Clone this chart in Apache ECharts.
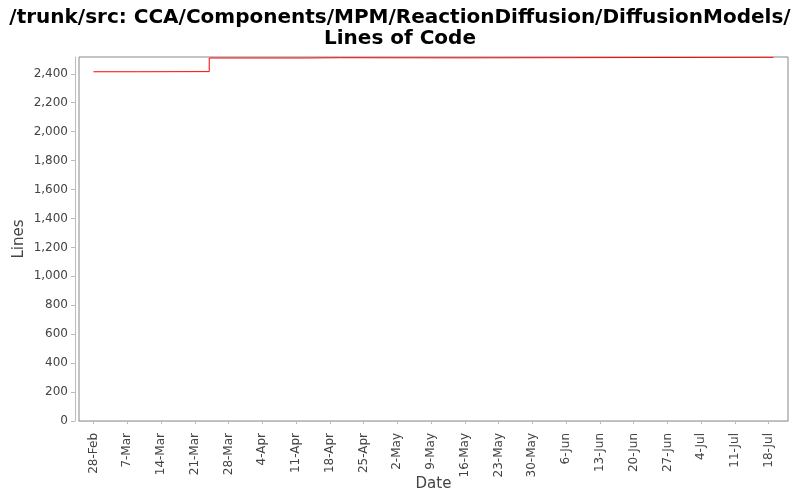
<!DOCTYPE html>
<html>
<head>
<meta charset="utf-8">
<script src="https://cdn.jsdelivr.net/npm/echarts@6/dist/echarts.min.js"></script>
<style>
html,body{margin:0;padding:0;background:#fff;}
#chart{width:800px;height:500px;}
</style>
</head>
<body>
<div id="chart"></div>
<script>
// Axis: one category per day, 25-Feb .. 22-Jul (non-leap year)
const axisDays = 148;
const monthNames = ['Jan','Feb','Mar','Apr','May','Jun','Jul','Aug','Sep','Oct','Nov','Dec'];
const categories = [];
for (let i = 0; i < axisDays; i++) {
  const d = new Date(Date.UTC(2011, 1, 25 + i));
  categories.push(d.getUTCDate() + '-' + monthNames[d.getUTCMonth()]);
}
const firstLabel = '28-Feb';
// Step points (dates where line count changes) and values
const changeDates = ['28-Feb', '9-Mar', '24-Mar', '13-Apr', '20-Apr', '15-May', '19-Jul'];
const lineCounts  = [2414, 2415, 2509, 2511, 2510, 2514, 2514];
const yTicks = [0,200,400,600,800,1000,1200,1400,1600,1800,2000,2200,2400];

const firstIdx = categories.indexOf(firstLabel);
const weekly = (idx) => idx >= firstIdx && (idx - firstIdx) % 7 === 0;

const chart = echarts.init(document.getElementById('chart'));
chart.setOption({
  backgroundColor: '#fff',
  animation: false,
  textStyle: { fontFamily: 'DejaVu Sans' },
  title: {
    text: '/trunk/src: CCA/Components/MPM/ReactionDiffusion/DiffusionModels/\nLines of Code',
    left: 'center',
    top: 2,
    textStyle: { fontFamily: 'DejaVu Sans', fontWeight: 'bold', fontSize: 20, color: '#000', lineHeight: 21 }
  },
  grid: {
    left: 79, right: 12, top: 57, bottom: 79,
    show: true, borderColor: '#888', borderWidth: 1, backgroundColor: '#fff'
  },
  xAxis: {
    type: 'category',
    data: categories,
    boundaryGap: false,
    offset: 3,
    name: 'Date',
    nameLocation: 'middle',
    nameGap: 53,
    nameMoveOverlap: false,
    nameTextStyle: { fontFamily: 'DejaVu Sans', fontSize: 15, color: '#444' },
    axisLine: { show: true, lineStyle: { color: '#bbb' } },
    axisTick: { show: true, length: 3, interval: (idx) => weekly(idx), lineStyle: { color: '#bbb' } },
    axisLabel: {
      interval: (idx) => weekly(idx),
      rotate: 90,
      fontFamily: 'DejaVu Sans', fontSize: 12, color: '#444', margin: 9
    },
    splitLine: { show: false }
  },
  yAxis: {
    type: 'value',
    min: 0, max: 2516,
    offset: 4,
    name: 'Lines',
    nameLocation: 'middle',
    nameGap: 48,
    nameMoveOverlap: false,
    nameTextStyle: { fontFamily: 'DejaVu Sans', fontSize: 15, color: '#444' },
    axisLine: { show: true, lineStyle: { color: '#bbb' } },
    axisTick: { show: true, length: 4, customValues: yTicks, lineStyle: { color: '#bbb' } },
    axisLabel: {
      customValues: yTicks,
      fontFamily: 'DejaVu Sans', fontSize: 12, color: '#444', margin: 7,
      formatter: (v) => v.toLocaleString('en-US')
    },
    splitLine: { show: false }
  },
  series: [{
    type: 'line',
    step: 'end',
    symbol: 'none',
    color: '#ff0000',
    data: changeDates.map((d, i) => [d, lineCounts[i]]),
    lineStyle: { color: '#ff0000', width: 1 },
    itemStyle: { color: '#ff0000' }
  }]
});
</script>
</body>
</html>
